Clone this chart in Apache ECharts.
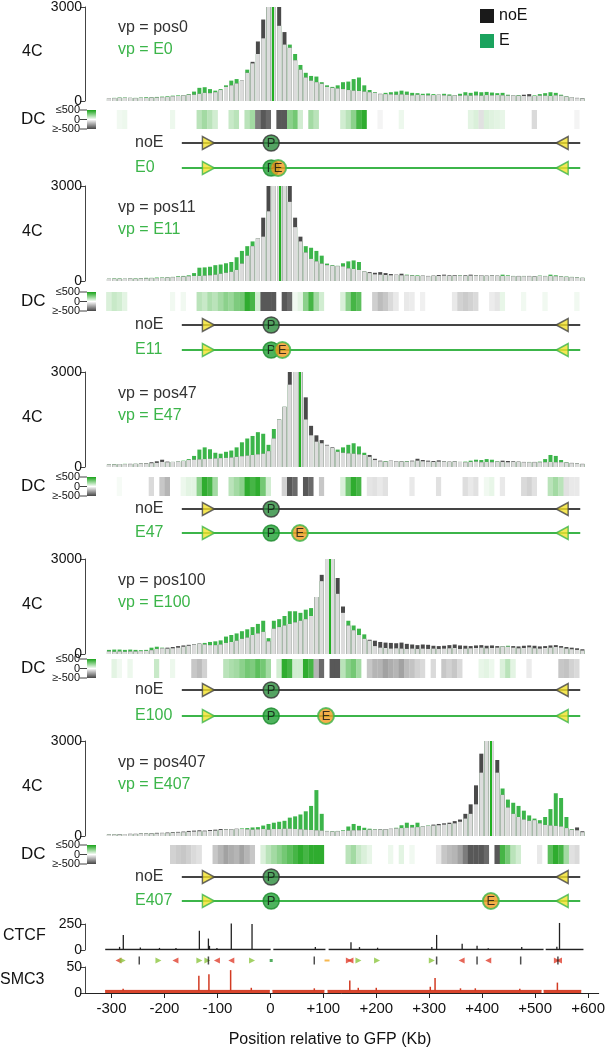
<!DOCTYPE html>
<html><head><meta charset="utf-8">
<script src="https://cdn.jsdelivr.net/npm/echarts@6/dist/echarts.min.js"></script>
<style>html,body{margin:0;padding:0;background:#fff}#c{width:608px;height:1052px}</style>
</head><body><div id="c"></div>
<script>
// ---------- DATA ----------
// 4C bins: centres from -305 kb, every 10 kb (90 bins)
const binStart = -305, binStep = 10;
const vpNames = ['pos0', 'pos11', 'pos47', 'pos100', 'pos407'];
const eNames = ['E0', 'E11', 'E47', 'E100', 'E407'];
const vpLinePos = [3, 17, 53, 111, 413];
const enhancerPos = [13, 21, 54, 103, 413];
const promoterPos = 0;
const constructStart = -168, constructEnd = 581;
const siteLeft = -118, siteRight = 547;

const noE_0 = [90,90,100,100,100,90,100,100,110,110, 120,130,150,160,180,200,200,230,260,250, 280,350,450,500,560,650,900,1250,1900,2600, 3300,3300,3300,2200,1700,1300,1000,750,650,600, 550,450,420,400,380,350,330,320,300,280, 260,230,220,210,200,210,200,180,200,190, 180,190,200,180,170,180,170,180,170,180, 170,190,180,190,180,170,180,170,200,220, 160,170,170,160,180,170,140,120,100,90];
const E_0 = [90,100,110,110,100,100,110,120,120,130, 140,150,170,180,190,220,300,420,440,380, 330,380,500,650,700,640,1000,1200,1500,2000, 3300,3300,2400,1800,1800,1500,1150,900,800,780, 600,500,450,500,600,620,700,750,500,350, 280,220,260,280,300,330,300,260,250,230, 240,220,200,230,210,190,230,280,260,300, 280,290,270,250,260,200,180,190,160,150, 180,220,250,280,260,200,150,120,90,80];
const dc_0 = [0,0,30,40,0,0,0,0,0,0, 0,0,40,0,0,0,0,150,200,150, 100,0,0,120,150,0,150,200,-350,-450, -400,0,-450,-450,250,300,100,0,200,150, 0,0,0,0,100,150,250,400,450,0, 0,-30,0,0,0,40,0,0,0,0, 0,0,0,0,0,0,0,0,60,80, -80,80,70,60,50,0,0,0,0,0, -100,0,0,0,0,0,0,0,-30,0];

const noE_11 = [70,70,70,70,80,70,80,80,90,90, 100,110,120,130,140,150,160,160,170,180, 200,230,260,290,350,550,800,1100,1350,2000, 3300,3300,3300,3300,3300,2000,1400,900,700,620, 550,500,480,470,460,400,380,350,300,280, 260,280,250,220,200,230,180,170,160,170, 160,170,190,200,180,190,170,180,200,180, 190,170,180,170,160,160,150,160,150,160, 150,160,150,160,150,140,130,120,110,100];
const E_11 = [70,80,80,70,80,80,90,100,100,110, 110,120,130,150,160,180,250,420,430,450, 500,520,560,600,750,950,1100,1250,1350,1400, 2200,3300,3300,3300,2500,1700,1250,1100,1050,950, 800,550,500,480,560,620,650,600,300,250, 210,200,190,180,190,180,200,190,180,160, 150,160,160,170,160,170,180,160,170,170, 180,160,170,160,200,180,160,150,160,150, 140,170,160,200,180,150,140,130,120,100];
const dc_11 = [80,120,100,60,0,0,0,0,0,0, 0,0,30,0,30,0,0,150,120,180, 150,200,250,220,280,300,450,400,100,-450, -450,-450,0,-450,-400,30,60,250,400,200, 100,0,0,0,80,250,400,350,0,0, -130,-180,-150,-100,-60,0,-60,-50,0,-40, 0,0,0,0,0,-60,-120,-140,-120,-100, 0,0,-50,-70,50,0,0,0,30,0, 0,0,30,0,0,0,0,0,30,0];

const noE_47 = [80,80,90,90,100,100,110,120,150,180, 230,170,160,170,190,220,230,240,250,260, 270,280,290,300,320,340,360,380,400,420, 500,900,1500,1900,3000,3300,3300,2200,1300,1000, 850,700,620,480,450,430,420,400,380,380, 260,200,170,200,190,180,170,200,260,220, 200,190,210,180,170,180,160,150,160,170, 150,160,150,170,200,190,180,170,160,150, 160,150,150,160,150,150,140,130,110,100];
const E_47 = [80,90,90,100,90,100,100,110,120,130, 160,150,160,170,200,250,350,550,620,560, 450,420,480,520,620,780,900,980,1100,1050, 700,1200,1500,1900,2600,3300,3300,1500,1000,800, 750,680,600,550,620,700,750,650,450,320, 220,180,190,190,180,170,190,180,200,180, 170,160,170,170,160,170,160,170,200,230, 220,250,230,180,160,150,160,160,150,160, 150,170,250,380,350,220,150,120,100,90];
const dc_47 = [0,0,20,0,0,0,0,0,-100,0, -150,-200,0,0,40,60,60,250,450,400, 200,0,0,150,200,250,450,400,450,300, 100,0,0,-120,-450,-400,0,-450,-400,0, -150,0,0,0,80,300,450,400,0,-70, -80,-60,-80,0,0,0,0,-60,0,0, 0,0,-80,0,0,0,0,-90,-60,-80, 0,30,50,0,-60,0,0,0,-100,-120, -80,0,0,150,200,150,-80,-60,-60,0];

const noE_100 = [80,70,80,70,80,80,90,100,120,160, 180,200,220,250,270,290,310,330,300,280, 280,300,350,380,420,480,520,600,650,700, 400,800,850,900,950,1000,1050,1100,1200,1800, 2500,3300,3300,2400,1500,900,750,600,480,450, 420,380,360,350,340,360,320,300,280,300, 290,260,250,260,280,300,270,260,250,270, 280,260,270,250,240,230,250,240,260,270, 260,240,250,270,280,250,220,200,180,150];
const E_100 = [130,140,140,130,140,130,120,130,200,230, 200,170,180,200,230,260,300,320,350,380, 400,430,550,600,650,720,780,850,950,1050, 500,1050,1100,1200,1350,1350,1300,1400,1450,1800, 2300,3300,3300,1900,1300,1050,900,800,620,420, 250,200,190,170,180,170,160,170,160,170, 160,170,160,170,180,190,160,170,180,190, 200,180,190,200,250,260,200,180,190,210, 180,170,190,200,220,200,170,150,130,110];
const dc_100 = [0,60,30,0,40,0,0,0,0,120, 0,0,40,0,0,0,-150,-180,-120,0, 0,0,150,180,200,250,300,280,350,300, 200,0,100,450,400,100,100,450,400,-200, -400,0,-450,-450,150,250,300,200,0,-150, -200,-200,-250,-220,-200,-250,-180,-160,-120,-100, 0,-100,0,-150,-120,-150,-100,0,0,0, 50,60,40,0,80,150,60,0,0,-50, 0,0,0,0,0,-150,-160,-120,-100,0];

const noE_407 = [50,50,60,60,70,70,80,80,90,100, 100,110,120,130,140,160,170,180,170,190, 200,220,210,220,230,220,210,200,210,220, 200,220,220,230,230,220,210,200,190,180, 170,150,140,150,160,170,180,180,190,200, 200,210,220,230,240,250,260,270,280,300, 320,360,380,400,420,470,520,700,1000,1600, 2600,3300,3300,2400,1300,900,700,600,520,480, 500,400,350,330,320,300,250,200,270,150];
const E_407 = [50,50,50,60,60,60,70,70,80,80, 90,90,100,110,120,130,140,150,150,160, 170,190,200,210,220,240,250,270,280,330, 380,420,450,480,580,620,680,780,950,1450, 700,160,150,160,180,300,380,320,260,230, 210,200,210,220,260,340,420,350,420,300, 330,330,340,360,380,400,450,550,700,1000, 2000,3300,3300,2000,1500,1150,1050,950,800,650, 550,500,600,850,1350,1200,600,220,180,120];
const dc_407 = [null,null,null,null,null,null,null,null,null,null, null,null,-120,-140,-150,-130,-100,-80,0,0, -150,-200,-250,-220,-200,-250,-200,-150,0,80, 150,200,250,300,350,400,450,400,450,450, 450,0,0,0,0,150,200,120,80,50, 0,0,0,40,0,60,0,30,0,0, 0,0,-60,-150,-180,-200,-250,-350,-450,-450, -450,-400,0,-450,400,300,150,100,0,0, 0,-60,0,350,450,400,200,-80,-100,0];

// ChIP tracks
const trackSegStart = [-312, 4, 108, 516];
const trackSegEnd = [-1, 102, 512, 587];
const ctcfBackground = 4, smc3Background = 5;
const ctcfPos = [-285,-278,-246,-210,-179,-135,-118,-116,-102,-75,-36,83,150,166,200,302,311,359,387,408,471,537,542];
const ctcfVal = [30,145,25,20,20,185,110,40,20,255,250,30,75,28,22,30,145,60,40,18,28,32,260];
const smc3Pos = [-278,-135,-116,-75,-36,83,150,166,200,302,311,359,387,471,542];
const smc3Val = [8,33,36,44,10,9,24,10,10,12,29,9,9,8,20];
// CTCF motif orientations
const motifRevPos = [-287,-180,-102,-75,149,358,408,541];
const motifFwdPos = [-279,-212,-135,-120,-36,164,199,302];
const motifFwdRedPos = [146,537];
const motifTickPos = [-248,-118,81,311,387,469,539];
const motifDotPos = [0];
const motifDashPos = [105];
const xTicks = [-300,-200,-100,0,100,200,300,400,500,600];

// ---------- LAYOUT / STYLE ----------
const FONT = '"Liberation Sans", Arial, Helvetica, sans-serif';
const GREEN = '#3cb54a', DARK = '#4a4a4a', LIGHT = '#dcdcdc';
const top4C = [6, 186, 372, 559, 741], h4C = 95;
const topDC = [110, 292, 477, 659, 845], hDC = 19;
const rowNoE = [143, 325, 509, 690, 877], rowE = [168, 350, 533, 716, 901];

const panels = [
  {noE: noE_0, E: E_0, dc: dc_0},
  {noE: noE_11, E: E_11, dc: dc_11},
  {noE: noE_47, E: E_47, dc: dc_47},
  {noE: noE_100, E: E_100, dc: dc_100},
  {noE: noE_407, E: E_407, dc: dc_407}
];

const grids = [], xAxes = [], yAxes = [], series = [], graphics = [];
function addGrid(top, height, yOpt, xOpt) {
  const idx = grids.length;
  grids.push({left: 85, right: 7, top: top, height: height, containLabel: false});
  xAxes.push(Object.assign({type: 'value', gridIndex: idx, min: -350, max: 620, show: false, splitLine: {show: false}}, xOpt || {}));
  yAxes.push(Object.assign({type: 'value', gridIndex: idx, min: 0, max: 1, show: false, splitLine: {show: false}}, yOpt || {}));
  return idx;
}
function yAxisStyle(max) {
  return {show: true, min: 0, max: max, interval: max,
    axisLine: {show: true, onZero: false, lineStyle: {color: '#444', width: 1}},
    axisTick: {show: true, length: 5, inside: false, lineStyle: {color: '#444'}},
    axisLabel: {show: true, fontSize: 14, color: '#111', margin: 3, fontFamily: FONT, formatter: v => String(v)},
    splitLine: {show: false}};
}
function hex(c) { return [parseInt(c.slice(1,3),16), parseInt(c.slice(3,5),16), parseInt(c.slice(5,7),16)]; }
function mix(c1, c2, t) {
  const a = hex(c1), b = hex(c2);
  return 'rgb(' + a.map((v, i) => Math.round(v + (b[i] - v) * t)).join(',') + ')';
}
function dcColor(v) {
  const t = Math.min(Math.abs(v), 500) / 500;
  return v >= 0 ? mix('#ffffff', '#18a318', t) : mix('#ffffff', '#454545', t);
}
function txt(x, y, s, size, color, align) {
  graphics.push({type: 'text', x: x, y: y, silent: true,
    style: {text: s, fill: color || '#111', font: size + 'px ' + FONT, textAlign: align || 'left', textVerticalAlign: 'middle', align: align || 'left', verticalAlign: 'middle'}});
}
function line(x1, y1, x2, y2, color) {
  graphics.push({type: 'line', silent: true, shape: {x1: x1, y1: y1, x2: x2, y2: y2}, style: {stroke: color || '#444', lineWidth: 1}});
}

panels.forEach((p, k) => {
  const pts = arr => arr.map((v, i) => [binStart + i * binStep, v]);
  const g = addGrid(top4C[k], h4C, yAxisStyle(3000));
  const common = {type: 'bar', xAxisIndex: g, yAxisIndex: g, barWidth: 4, barGap: '-100%', clip: true, animation: false, silent: true};
  series.push(Object.assign({}, common, {name: 'E', data: pts(p.E), itemStyle: {color: GREEN}}));
  series.push(Object.assign({}, common, {name: 'noE', data: pts(p.noE), itemStyle: {color: DARK}}));
  series.push(Object.assign({}, common, {name: 'shared', data: pts(p.noE.map((v, i) => Math.min(v, p.E[i]))), itemStyle: {color: LIGHT},
    markLine: {silent: true, symbol: 'none', animation: false, label: {show: false},
      lineStyle: {color: '#22b022', width: 2, type: 'solid'}, data: [{xAxis: vpLinePos[k]}]}}));

  // DC strip
  const d = addGrid(topDC[k], hDC);
  series.push({type: 'bar', xAxisIndex: d, yAxisIndex: d, barWidth: 5.6, animation: false, silent: true,
    data: p.dc.map((v, i) => v === null ? null : {value: [binStart + i * binStep, 1], itemStyle: {color: dcColor(v)}}).filter(x => x)});

  // construct schematic
  const s = addGrid(rowNoE[k], rowE[k] - rowNoE[k]);
  const sc = {xAxisIndex: s, yAxisIndex: s, animation: false, silent: true};
  series.push(Object.assign({}, sc, {type: 'line', data: [[constructStart, 1], [constructEnd, 1]], symbol: 'none', lineStyle: {color: '#444', width: 2}, z: 2}));
  series.push(Object.assign({}, sc, {type: 'line', data: [[constructStart, 0], [constructEnd, 0]], symbol: 'none', lineStyle: {color: GREEN, width: 2}, z: 2}));
  series.push(Object.assign({}, sc, {type: 'scatter', symbol: 'triangle', symbolSize: [13, 12], z: 3, data: [
    {value: [siteLeft, 1], symbolRotate: -90, itemStyle: {color: '#f2e12b', borderColor: '#444', borderWidth: 1.5}},
    {value: [siteRight, 1], symbolRotate: 90, itemStyle: {color: '#f2e12b', borderColor: '#444', borderWidth: 1.5}},
    {value: [siteLeft, 0], symbolRotate: -90, itemStyle: {color: '#f2e12b', borderColor: GREEN, borderWidth: 1.5}},
    {value: [siteRight, 0], symbolRotate: 90, itemStyle: {color: '#f2e12b', borderColor: GREEN, borderWidth: 1.5}}]}));
  series.push(Object.assign({}, sc, {type: 'scatter', symbol: 'circle', symbolSize: 16, z: 4,
    label: {show: true, position: 'inside', formatter: 'P', color: '#111', fontSize: 13, fontFamily: FONT},
    data: [{value: [promoterPos, 1], itemStyle: {color: '#2a8c3c', borderColor: '#333', borderWidth: 1.5}},
           {value: [promoterPos, 0], itemStyle: {color: '#20a035', borderColor: '#1c8a2c', borderWidth: 1.5}}]}));
  series.push(Object.assign({}, sc, {type: 'scatter', symbol: 'circle', symbolSize: 16, z: 5,
    label: {show: true, position: 'inside', formatter: 'E', color: '#111', fontSize: 13, fontFamily: FONT},
    itemStyle: {color: '#f39a1e', borderColor: GREEN, borderWidth: 2},
    data: [[enhancerPos[k], 0]]}));

  // texts
  txt(22, top4C[k] + 46, '4C', 16);
  txt(118, top4C[k] + 22, 'vp = ' + vpNames[k], 16, '#333');
  txt(118, top4C[k] + 44, 'vp = ' + eNames[k], 16, GREEN);
  txt(21, topDC[k] + 9, 'DC', 17);
  txt(80, topDC[k], '\u2264500', 11, '#111', 'right');
  txt(80, topDC[k] + 9.5, '0', 11, '#111', 'right');
  txt(80, topDC[k] + 19, '\u2265-500', 11, '#111', 'right');
  line(80, topDC[k], 87, topDC[k]);
  line(80, topDC[k] + 9.5, 87, topDC[k] + 9.5);
  line(80, topDC[k] + 19, 87, topDC[k] + 19);
  graphics.push({type: 'rect', silent: true, shape: {x: 87, y: topDC[k], width: 9, height: 19},
    style: {fill: {type: 'linear', x: 0, y: 0, x2: 0, y2: 1, colorStops: [{offset: 0, color: '#18a318'}, {offset: 0.5, color: '#ffffff'}, {offset: 1, color: '#454545'}]}}});
  txt(135, rowNoE[k], 'noE', 16, '#333');
  txt(135, rowE[k], eNames[k], 16, GREEN);
});

// CTCF track
const cg = addGrid(924, 26, yAxisStyle(250));
trackSegStart.forEach((s, i) => {
  series.push({type: 'line', xAxisIndex: cg, yAxisIndex: cg, data: [[s, ctcfBackground], [trackSegEnd[i], ctcfBackground]], symbol: 'none', lineStyle: {color: '#222', width: 1.5}, animation: false, silent: true});
});
series.push({type: 'bar', xAxisIndex: cg, yAxisIndex: cg, barWidth: 1.3, clip: false, animation: false, silent: true, itemStyle: {color: '#222'},
  data: ctcfPos.map((x, i) => [x, ctcfVal[i]])});
txt(3, 936, 'CTCF', 16);

// motif row
const mg = addGrid(955, 11);
const mc = {type: 'scatter', xAxisIndex: mg, yAxisIndex: mg, animation: false, silent: true};
series.push(Object.assign({}, mc, {symbol: 'triangle', symbolSize: [6, 6], symbolRotate: 90, itemStyle: {color: '#e0402e'}, data: motifRevPos.map(x => [x, 0.5])}));
series.push(Object.assign({}, mc, {symbol: 'triangle', symbolSize: [6, 6], symbolRotate: -90, itemStyle: {color: '#e0402e'}, data: motifFwdRedPos.map(x => [x, 0.5])}));
series.push(Object.assign({}, mc, {symbol: 'triangle', symbolSize: [6, 6], symbolRotate: -90, itemStyle: {color: '#8cc63f'}, data: motifFwdPos.map(x => [x, 0.5])}));
series.push(Object.assign({}, mc, {symbol: 'rect', symbolSize: [1.5, 8], itemStyle: {color: '#222'}, data: motifTickPos.map(x => [x, 0.5])}));
series.push(Object.assign({}, mc, {symbol: 'rect', symbolSize: [3, 3], itemStyle: {color: '#2a9a3a'}, data: motifDotPos.map(x => [x, 0.5])}));
series.push(Object.assign({}, mc, {symbol: 'rect', symbolSize: [5, 2], itemStyle: {color: '#f5a623'}, data: motifDashPos.map(x => [x, 0.5])}));

// SMC3 track with x axis
const sg = addGrid(967, 26, yAxisStyle(50), {show: true,
  axisLine: {show: true, onZero: false, lineStyle: {color: '#222', width: 1}},
  axisTick: {show: true, length: 5, customValues: xTicks, lineStyle: {color: '#222'}},
  axisLabel: {show: true, customValues: xTicks, fontSize: 15, color: '#111', margin: 8, fontFamily: FONT,
    formatter: v => v > 0 ? '+' + v : String(v)}});
trackSegStart.forEach((s, i) => {
  series.push({type: 'line', xAxisIndex: sg, yAxisIndex: sg, data: [[s, smc3Background], [trackSegEnd[i], smc3Background]], symbol: 'none',
    lineStyle: {color: '#d23a22', width: 1}, areaStyle: {color: '#d9452c', opacity: 1}, animation: false, silent: true});
});
series.push({type: 'bar', xAxisIndex: sg, yAxisIndex: sg, barWidth: 1.5, clip: false, animation: false, silent: true, itemStyle: {color: '#d23a22'},
  data: smc3Pos.map((x, i) => [x, smc3Val[i]])});
txt(0, 980, 'SMC3', 16);
txt(330, 1040, 'Position relative to GFP (Kb)', 16, '#111', 'center');

const chart = echarts.init(document.getElementById('c'), null, {renderer: 'canvas'});
chart.setOption({
  animation: false,
  backgroundColor: '#fff',
  grid: grids, xAxis: xAxes, yAxis: yAxes, series: series, graphic: graphics,
  legend: {left: 475, top: 3, orient: 'vertical', itemWidth: 14, itemHeight: 14, itemGap: 9, selectedMode: false,
    textStyle: {fontSize: 16, fontFamily: FONT, color: '#111'},
    data: [{name: 'noE', icon: 'rect', itemStyle: {color: '#1a1a1a'}}, {name: 'E', icon: 'rect', itemStyle: {color: '#1ba35e'}}]}
});
</script></body></html>
